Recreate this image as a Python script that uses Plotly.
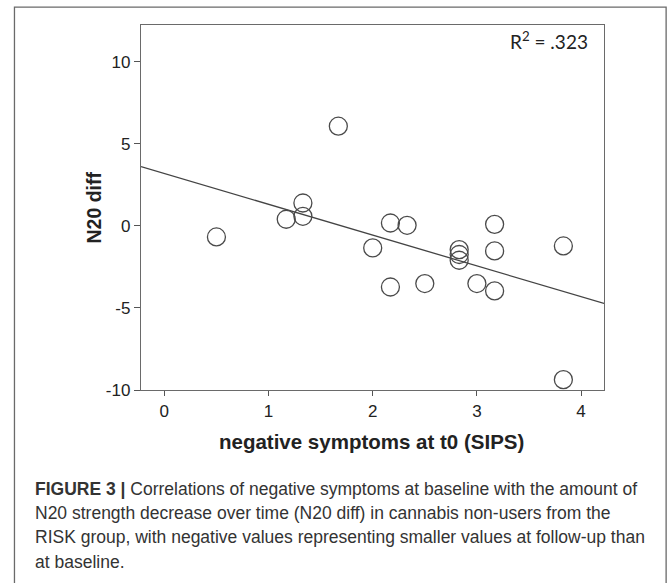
import numpy as np
import plotly.graph_objects as go

# ---- data ----
neg_symptoms = [0.5, 1.17, 1.33, 1.33, 1.67, 2.0, 2.17, 2.17, 2.33, 2.5,
                2.83, 2.83, 2.83, 3.0, 3.17, 3.17, 3.17, 3.83, 3.83]
n20_diff = [-0.67, 0.41, 1.40, 0.59, 6.08, -1.34, 0.18, -3.72, 0.04, -3.51,
            -1.44, -1.74, -2.09, -3.51, 0.10, -1.52, -3.96, -1.22, -9.37]
x_ticks = [0, 1, 2, 3, 4]
y_ticks = [-10, -5, 0, 5, 10]
x_range = [-0.224, 4.22]
y_range = [-10, 12.25]
r2_label = "R<sup>2</sup> = .323"
x_title = "negative symptoms at t0 (SIPS)"
y_title = "N20 diff"
caption_lines = [
    "<b>FIGURE 3 |</b> Correlations of negative symptoms at baseline with the amount of",
    "N20 strength decrease over time (N20 diff) in cannabis non-users from the",
    "RISK group, with negative values representing smaller values at follow-up than",
    "at baseline.",
]

# linear fit from the data
slope, intercept = np.polyfit(neg_symptoms, n20_diff, 1)
fit_x = np.array(x_range)
fit_y = intercept + slope * fit_x

# ---- layout geometry (pixels) ----
W, H = 669, 583
L, R, T, B = 140.7, 604.3, 24.7, 390.0
pw, ph = R - L, B - T


def px(p):
    return (p - L) / pw


def py(p):
    return (B - p) / ph


fig = go.Figure()
fig.add_trace(go.Scatter(
    x=fit_x, y=fit_y, mode="lines",
    line=dict(color="#444444", width=1.3),
    hoverinfo="skip", showlegend=False, cliponaxis=True,
))
fig.add_trace(go.Scatter(
    x=neg_symptoms, y=n20_diff, mode="markers",
    marker=dict(symbol="circle-open", size=18, color="#4a4a4a",
                line=dict(width=1.3, color="#4a4a4a")),
    showlegend=False, cliponaxis=False,
))

axis_common = dict(
    showgrid=False, zeroline=False, showline=True, mirror=True,
    linecolor="#6a6a6a", linewidth=1.3, ticks="outside", tickcolor="#555555",
    tickwidth=1.2, tickfont=dict(family="Liberation Sans, Arial", size=17, color="#222222"),
)
fig.update_xaxes(range=x_range, tickvals=x_ticks, ticktext=[str(v) for v in x_ticks],
                 ticklen=5, **axis_common)
fig.update_yaxes(range=y_range, tickvals=y_ticks, ticktext=[str(v) for v in y_ticks],
                 ticklen=6, **axis_common)

annotations = [
    dict(x=px(590.7), y=py(40.5), xref="paper", yref="paper", text=r2_label,
         showarrow=False, xanchor="right", yanchor="middle",
         font=dict(family="Lato, Open Sans", size=19, color="#222222")),
    dict(x=px(371.5), y=py(442), xref="paper", yref="paper", text="<b>" + x_title + "</b>",
         showarrow=False, xanchor="center", yanchor="middle",
         font=dict(family="Liberation Sans, Arial", size=20.5, color="#222222")),
    dict(x=px(94), y=py(207), xref="paper", yref="paper", text="<b>" + y_title + "</b>",
         showarrow=False, xanchor="center", yanchor="middle", textangle=-90,
         font=dict(family="Liberation Sans, Arial", size=19.5, color="#222222")),
]
for i, line in enumerate(caption_lines):
    annotations.append(dict(
        x=px(33), y=py(489 + i * 24.3), xref="paper", yref="paper", text=line,
        showarrow=False, xanchor="left", yanchor="middle",
        font=dict(family="Liberation Sans, Arial", size=17.5, color="#333333"),
    ))

fig.update_layout(
    width=W, height=H,
    margin=dict(l=L, r=W - R, t=T, b=H - B),
    paper_bgcolor="white", plot_bgcolor="white",
    annotations=annotations,
    shapes=[dict(type="rect", xref="paper", yref="paper",
                 x0=px(14), x1=px(666.5), y0=py(600), y1=py(6.8),
                 line=dict(color="#6a6a6a", width=1.3), fillcolor="rgba(0,0,0,0)")],
)

fig.write_html(
    "out.html",
    config={"displayModeBar": False},
    post_script="document.body.style.margin='0';document.body.style.overflow='hidden';",
)
